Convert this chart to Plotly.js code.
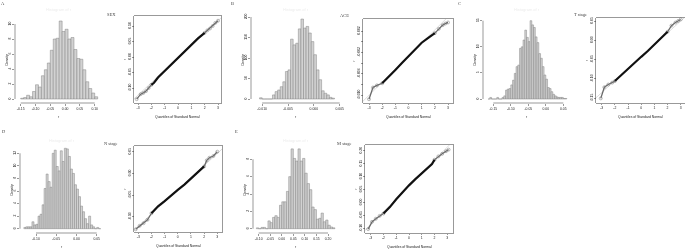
<!DOCTYPE html>
<html><head><meta charset="utf-8">
<script src="https://cdn.plot.ly/plotly-3.0.1.min.js"></script>
<style>html,body{margin:0;padding:0;background:#fff}#chart{width:685px;height:251px;filter:grayscale(1)}</style>
</head><body><div id="chart"></div>
<script>
// ---------------- DATA ----------------
const panelLetters = ['A','B','C','D','E'];
const variableNames = ['SEX','ACE','T stage','N stage','M stage'];

// Histogram bin midpoints and densities
const binWidthA = 0.01;
const binMidA = [-0.145,-0.135,-0.125,-0.115,-0.105,-0.095,-0.085,-0.075,-0.065,-0.055,-0.045,-0.035,-0.025,-0.015,-0.005,0.005,0.015,0.025,0.035,0.045,0.055,0.065,0.075,0.085,0.095,0.105];
const densityA = [0.1,0.2,0.5,0.3,1.0,1.9,1.6,3.1,3.9,4.8,6.5,8.0,8.1,10.4,9.0,9.3,8.0,8.2,6.6,5.4,5.3,3.9,2.3,1.4,0.8,0.3];

const binWidthB = 0.0005;
const binMidB = [-0.01025,-0.00975,-0.00925,-0.00875,-0.00825,-0.00775,-0.00725,-0.00675,-0.00625,-0.00575,-0.00525,-0.00475,-0.00425,-0.00375,-0.00325,-0.00275,-0.00225,-0.00175,-0.00125,-0.00075,-0.00025,0.00025,0.00075,0.00125,0.00175,0.00225,0.00275,0.00325,0.00375];
const densityB = [3,0,0,0,0,10,18,22,30,42,67,71,146,132,136,171,195,173,177,161,140,108,71,47,20,14,10,4,2];

const binWidthC = 0.005;
const binMidC = [-0.1625,-0.1575,-0.1525,-0.1475,-0.1425,-0.1375,-0.1325,-0.1275,-0.1225,-0.1175,-0.1125,-0.1075,-0.1025,-0.0975,-0.0925,-0.0875,-0.0825,-0.0775,-0.0725,-0.0675,-0.0625,-0.0575,-0.0525,-0.0475,-0.0425,-0.0375,-0.0325,-0.0275,-0.0225,-0.0175,-0.0125,-0.0075,-0.0025,0.0025,0.0075,0.0125,0.0175,0.0225,0.0275,0.0325,0.0375,0.0425,0.0475,0.0525,0.0575];
const densityC = [0,0.3,0,0,0,0.3,0,0,0.3,0.6,1.7,1.9,2.0,2.7,3.6,4.9,6.2,6.5,9.7,10.0,11.3,13.2,11.8,11.0,15.0,14.2,13.7,11.9,10.8,8.7,7.8,6.2,4.6,3.8,2.2,2.0,1.4,0.9,0.6,0.4,0.3,0.3,0.3,0.1,0.1];

const binWidthD = 0.005;
const binMidD = [-0.1275,-0.1225,-0.1175,-0.1125,-0.1075,-0.1025,-0.0975,-0.0925,-0.0875,-0.0825,-0.0775,-0.0725,-0.0675,-0.0625,-0.0575,-0.0525,-0.0475,-0.0425,-0.0375,-0.0325,-0.0275,-0.0225,-0.0175,-0.0125,-0.0075,-0.0025,0.0025,0.0075,0.0125,0.0175,0.0225,0.0275,0.0325,0.0375,0.0425,0.0475,0.0525,0.0575];
const densityD = [0.2,0.3,0.3,0.3,1.1,0.6,0.7,2.0,2.3,3.8,6.4,8.7,7.5,6.6,12.0,12.5,9.9,9.2,12.4,10.7,12.8,12.7,11.5,9.5,8.8,7.0,6.3,5.1,3.6,2.7,1.6,0.8,2.0,0.6,0.3,0.0,0.2,0.0];

const binWidthE = 0.01;
const binMidE = [-0.105,-0.095,-0.085,-0.075,-0.065,-0.055,-0.045,-0.035,-0.025,-0.015,-0.005,0.005,0.015,0.025,0.035,0.045,0.055,0.065,0.075,0.085,0.095,0.105,0.115,0.125,0.135,0.145,0.155,0.165,0.175,0.185,0.195,0.205,0.215,0.225];
const densityE = [0.1,0.0,0.15,0.15,0.0,0.9,0.7,1.3,1.5,1.3,2.7,3.1,3.1,4.3,6.0,9.2,8.1,7.8,9.2,7.8,8.1,6.4,5.2,4.5,2.5,2.2,1.1,1.2,1.8,0.8,1.0,0.4,0.2,0.1];

// Q-Q plots: theoretical normal quantiles vs sample r
const qqTheoA = [-3.1,-2.8,-2.6,-2.4,-2.2,-2.0,-1.8,-1.5,-1.0,-0.5,0,0.5,1.0,1.5,2.0,2.2,2.4,2.6,2.8,3.0];
const qqSampA = [-0.136,-0.120,-0.116,-0.110,-0.100,-0.090,-0.083,-0.066,-0.045,-0.022,0.000,0.020,0.040,0.060,0.078,0.086,0.092,0.100,0.110,0.117];
const qqTheoB = [-3.0,-2.7,-2.4,-2.0,-1.5,-1.0,-0.5,0,0.5,1.0,1.5,2.0,2.3,2.6,2.8,3.0];
const qqSampB = [-0.0108,-0.0086,-0.0082,-0.0078,-0.0066,-0.0053,-0.0040,-0.0027,-0.0014,-0.0002,0.0007,0.0016,0.0024,0.0031,0.0034,0.0036];
const qqTheoC = [-3.07,-2.8,-2.5,-2.2,-2.0,-1.5,-1.0,-0.5,0,0.5,1.0,1.5,2.0,2.3,2.6,2.8,3.0];
const qqSampC = [-0.151,-0.122,-0.115,-0.110,-0.106,-0.090,-0.073,-0.058,-0.043,-0.028,-0.012,0.004,0.022,0.038,0.046,0.050,0.054];
const qqTheoD = [-3.2,-2.9,-2.6,-2.3,-2.0,-1.5,-1.0,-0.5,0,0.5,1.0,1.5,2.0,2.2,2.4,2.7,3.0];
const qqSampD = [-0.129,-0.121,-0.115,-0.107,-0.092,-0.076,-0.064,-0.050,-0.038,-0.026,-0.012,0.002,0.016,0.030,0.036,0.040,0.050];
const qqTheoE = [-3.2,-2.9,-2.6,-2.3,-2.0,-1.5,-1.0,-0.5,0,0.5,1.0,1.5,1.8,2.0,2.3,2.6,2.9,3.1];
const qqSampE = [-0.103,-0.075,-0.063,-0.052,-0.043,-0.018,0.012,0.040,0.066,0.090,0.113,0.135,0.148,0.165,0.178,0.188,0.198,0.204];

// Reference (qqline) endpoints
const qqLineXA = [-3.6,3.6], qqLineYA = [-0.147,0.141];
const qqLineXB = [-3.6,3.6], qqLineYB = [-0.01152,0.00612];
const qqLineXC = [-3.6,3.6], qqLineYC = [-0.1546,0.0686];
const qqLineXD = [-3.6,3.6], qqLineYD = [-0.1388,0.0628];
const qqLineXE = [-3.6,3.6], qqLineYE = [-0.116,0.244];

// Tick values / labels
const histXTickA = [-0.15,-0.10,-0.05,0.00,0.05,0.10], histXLabA = ['-0.15','-0.10','-0.05','0.00','0.05','0.10'];
const histYTickA = [0,2,4,6,8,10], histYLabA = ['0','2','4','6','8','10'];
const histXTickB = [-0.010,-0.005,0.000,0.005], histXLabB = ['-0.010','-0.005','0.000','0.005'];
const histYTickB = [0,50,100,150,200], histYLabB = ['0','50','100','150','200'];
const histXTickC = [-0.15,-0.10,-0.05,0.00,0.05], histXLabC = ['-0.15','-0.10','-0.05','0.00','0.05'];
const histYTickC = [0,5,10,15], histYLabC = ['0','5','10','15'];
const histXTickD = [-0.10,-0.05,0.00,0.05], histXLabD = ['-0.10','-0.05','0.00','0.05'];
const histYTickD = [0,2,4,6,8,10,12], histYLabD = ['0','2','4','6','8','10','12'];
const histXTickE = [-0.10,-0.05,0.00,0.05,0.10,0.15,0.20], histXLabE = ['-0.10','-0.05','0.00','0.05','0.10','0.15','0.20'];
const histYTickE = [0,2,4,6,8], histYLabE = ['0','2','4','6','8'];

const qqXTick = [-3,-2,-1,0,1,2,3], qqXLab = ['-3','-2','-1','0','1','2','3'];
const qqYTickA = [-0.10,-0.05,0.00,0.05,0.10], qqYLabA = ['-0.10','-0.05','0.00','0.05','0.10'];
const qqYTickB = [-0.010,-0.008,-0.006,-0.004,-0.002,0.000,0.002], qqYLabB = ['-0.010','','-0.006','','-0.002','','0.002'];
const qqYTickC = [-0.15,-0.10,-0.05,0.00,0.05], qqYLabC = ['-0.15','-0.10','-0.05','0.00','0.05'];
const qqYTickD = [-0.10,-0.05,0.00,0.05], qqYLabD = ['-0.10','-0.05','0.00','0.05'];
const qqYTickE = [-0.10,-0.05,0.00,0.05,0.10,0.15,0.20], qqYLabE = ['-0.10','-0.05','0.00','0.05','0.10','0.15','0.20'];

// ---------------- LAYOUT GEOMETRY (pixel boxes + axis calibration) ----------------
const W = 685, H = 251;
const panels = [
  {hist:{x:[15,102],y:[16,103],xc:[-0.15,20.7,0.10,94.7],yc:[0,99,10,24]},
   qq:{x:[134,221],y:[16,103],xc:[-3,138,3,218],yc:[-0.10,88,0.10,26]},
   letter:[3,4], name:[111,15],
   mid:binMidA, dens:densityA, bw:binWidthA, hxt:histXTickA, hxl:histXLabA, hyt:histYTickA, hyl:histYLabA,
   qx:qqTheoA, qy:qqSampA, lx:qqLineXA, ly:qqLineYA, qyt:qqYTickA, qyl:qqYLabA},
  {hist:{x:[251,341],y:[16,103],xc:[-0.005,288,0.005,339.7],yc:[0,99,200,17]},
   qq:{x:[363,453],y:[19,103],xc:[-3,369,3,448],yc:[-0.010,95,0.002,31]},
   letter:[232,4], name:[344,15.5],
   mid:binMidB, dens:densityB, bw:binWidthB, hxt:histXTickB, hxl:histXLabB, hyt:histYTickB, hyl:histYLabB,
   qx:qqTheoB, qy:qqSampB, lx:qqLineXB, ly:qqLineYB, qyt:qqYTickB, qyl:qqYLabB},
  {hist:{x:[483,570],y:[16,103],xc:[-0.15,493.3,0.05,563.3],yc:[0,99,15,20.7]},
   qq:{x:[596,685],y:[18,103],xc:[-3,601.7,3,680.7],yc:[-0.15,98,0.05,21]},
   letter:[460,4], name:[580,15],
   mid:binMidC, dens:densityC, bw:binWidthC, hxt:histXTickC, hxl:histXLabC, hyt:histYTickC, hyl:histYLabC,
   qx:qqTheoC, qy:qqSampC, lx:qqLineXC, ly:qqLineYC, qyt:qqYTickC, qyl:qqYLabC},
  {hist:{x:[20,104],y:[146,233],xc:[-0.10,36,0.05,96.7],yc:[0,228.7,12,153.3]},
   qq:{x:[134,222],y:[146,232],xc:[-3,138.3,3,217.3],yc:[-0.10,216.7,0.05,151.7]},
   letter:[4,131], name:[110.7,143.3],
   mid:binMidD, dens:densityD, bw:binWidthD, hxt:histXTickD, hxl:histXLabD, hyt:histYTickD, hyl:histYLabD,
   qx:qqTheoD, qy:qqSampD, lx:qqLineXD, ly:qqLineYD, qyt:qqYTickD, qyl:qqYLabD},
  {hist:{x:[253,338],y:[146,233],xc:[-0.10,258.7,0.20,328],yc:[0,228.7,8,159.3]},
   qq:{x:[365,453],y:[145,233],xc:[-3,370.7,3,447.3],yc:[-0.10,228.3,0.20,150.7]},
   letter:[236,131], name:[343.5,143.3],
   mid:binMidE, dens:densityE, bw:binWidthE, hxt:histXTickE, hxl:histXLabE, hyt:histYTickE, hyl:histYLabE,
   qx:qqTheoE, qy:qqSampE, lx:qqLineXE, ly:qqLineYE, qyt:qqYTickE, qyl:qqYLabE}
];

function scale(cal){ return (cal[2]-cal[0])/(cal[3]-cal[1]); }
function rangeFrom(p0,p1,cal){ const s=scale(cal); return [cal[0]+(p0-cal[1])*s, cal[0]+(p1-cal[1])*s]; }
function pixOf(v,cal){ return cal[1]+(v-cal[0])/scale(cal); }

const SANS = 'Liberation Sans, Arial, sans-serif';
const SERIF = 'Liberation Serif, Times New Roman, serif';
const FS = 3.4;
const tickFont = {family:SANS, size:FS, color:'#222'};

const traces = [], layout = {
  width:W, height:H, margin:{l:0,r:0,t:0,b:0}, paper_bgcolor:'#fff', plot_bgcolor:'rgba(0,0,0,0)',
  showlegend:false, bargap:0, annotations:[], shapes:[]
};

function axisBase(){
  return {showgrid:false, zeroline:false, ticks:'outside', ticklen:1.6, tickwidth:0.5, tickcolor:'#333',
          tickfont:tickFont, tickmode:'array', fixedrange:true, ticklabelstandoff:0};
}
function ann(text,x,y,opt){
  layout.annotations.push(Object.assign({text:text, x:x/W, y:1-y/H, xref:'paper', yref:'paper',
    showarrow:false, xanchor:'center', yanchor:'middle', font:{family:SANS,size:FS,color:'#222'}}, opt||{}));
}

panels.forEach((p,i)=>{
  const hi = 2*i+1, qi = 2*i+2;
  const hx = 'x'+hi, hy = 'y'+hi, qx = 'x'+qi, qy = 'y'+qi;
  const h = p.hist, q = p.qq;

  // histogram
  traces.push({type:'bar', x:p.mid, y:p.dens, width:p.bw, xaxis:hx, yaxis:hy,
    marker:{color:'#d2d2d2', line:{color:'#7a7a7a', width:0.45}}, hoverinfo:'skip'});

  layout['xaxis'+hi] = Object.assign(axisBase(), {domain:[h.x[0]/W,h.x[1]/W], range:rangeFrom(h.x[0],h.x[1],h.xc),
    anchor:hy, tickvals:p.hxt, ticktext:p.hxl, showline:false});
  layout['yaxis'+hi] = Object.assign(axisBase(), {domain:[1-h.y[1]/H,1-h.y[0]/H], range:rangeFrom(h.y[1],h.y[0],h.yc),
    anchor:hx, tickvals:p.hyt, ticktext:p.hyl, tickangle:-90, showline:false});

  // R-style axis lines spanning first..last tick
  const xa = pixOf(p.hxt[0],h.xc), xb = pixOf(p.hxt[p.hxt.length-1],h.xc);
  layout.shapes.push({type:'line', xref:'paper', yref:'paper', x0:xa/W, x1:xb/W, y0:1-h.y[1]/H, y1:1-h.y[1]/H,
    line:{color:'#333', width:0.5}});
  const ya = pixOf(p.hyt[0],h.yc), yb = pixOf(p.hyt[p.hyt.length-1],h.yc);
  layout.shapes.push({type:'line', xref:'paper', yref:'paper', x0:h.x[0]/W, x1:h.x[0]/W, y0:1-ya/H, y1:1-yb/H,
    line:{color:'#333', width:0.5}});

  // Q-Q plot
  traces.push({type:'scatter', mode:'lines', x:p.lx, y:p.ly, xaxis:qx, yaxis:qy,
    line:{color:'#cfcfcf', width:0.7}, hoverinfo:'skip'});
  const core = {x:[],y:[]}, lo = {x:[],y:[]}, hiT = {x:[],y:[]};
  p.qx.forEach((v,k)=>{
    if (v>=-2 && v<=2){ core.x.push(v); core.y.push(p.qy[k]); }
    if (v<=-2){ lo.x.push(v); lo.y.push(p.qy[k]); }
    if (v>=2){ hiT.x.push(v); hiT.y.push(p.qy[k]); }
  });
  [lo,hiT].forEach(t=>traces.push({type:'scatter', mode:'lines+markers', x:t.x, y:t.y, xaxis:qx, yaxis:qy,
    line:{color:'#6a6a6a', width:1.3}, marker:{symbol:'circle-open', size:3, color:'#777', line:{width:0.5}},
    hoverinfo:'skip', cliponaxis:false}));
  traces.push({type:'scatter', mode:'lines', x:core.x, y:core.y, xaxis:qx, yaxis:qy,
    line:{color:'#111', width:2.2}, hoverinfo:'skip'});

  layout['xaxis'+qi] = Object.assign(axisBase(), {domain:[q.x[0]/W,Math.min(q.x[1],W)/W], range:rangeFrom(q.x[0],q.x[1],q.xc),
    anchor:qy, tickvals:qqXTick, ticktext:qqXLab, showline:true, mirror:true, linecolor:'#333', linewidth:0.5});
  layout['yaxis'+qi] = Object.assign(axisBase(), {domain:[1-q.y[1]/H,1-q.y[0]/H], range:rangeFrom(q.y[1],q.y[0],q.yc),
    anchor:qx, tickvals:p.qyt, ticktext:p.qyl, tickangle:-90, showline:true, mirror:true, linecolor:'#333', linewidth:0.5});

  // titles / labels
  const hcx = (h.x[0]+h.x[1])/2, hcy = (h.y[0]+h.y[1])/2;
  const qcx = (q.x[0]+Math.min(q.x[1],W))/2, qcy = (q.y[0]+q.y[1])/2;
  ann('Histogram of r', hcx, h.y[0]-6, {font:{family:SANS,size:4,color:'#ececec'}});
  ann('r', hcx, h.y[1]+13.5);
  ann('Density', h.x[0]-9, hcy, {textangle:-90});
  ann('Quantiles of Standard Normal', qcx, q.y[1]+14);
  ann('r', q.x[0]-9.5, qcy, {textangle:-90});
  ann(panelLetters[i], p.letter[0], p.letter[1], {font:{family:SERIF,size:4.5,color:'#444'}});
  ann(variableNames[i], p.name[0], p.name[1], {font:{family:SERIF,size:4.5,color:'#444'}});
});

Plotly.newPlot('chart', traces, layout, {staticPlot:true, displayModeBar:false});
</script>
</body></html>
